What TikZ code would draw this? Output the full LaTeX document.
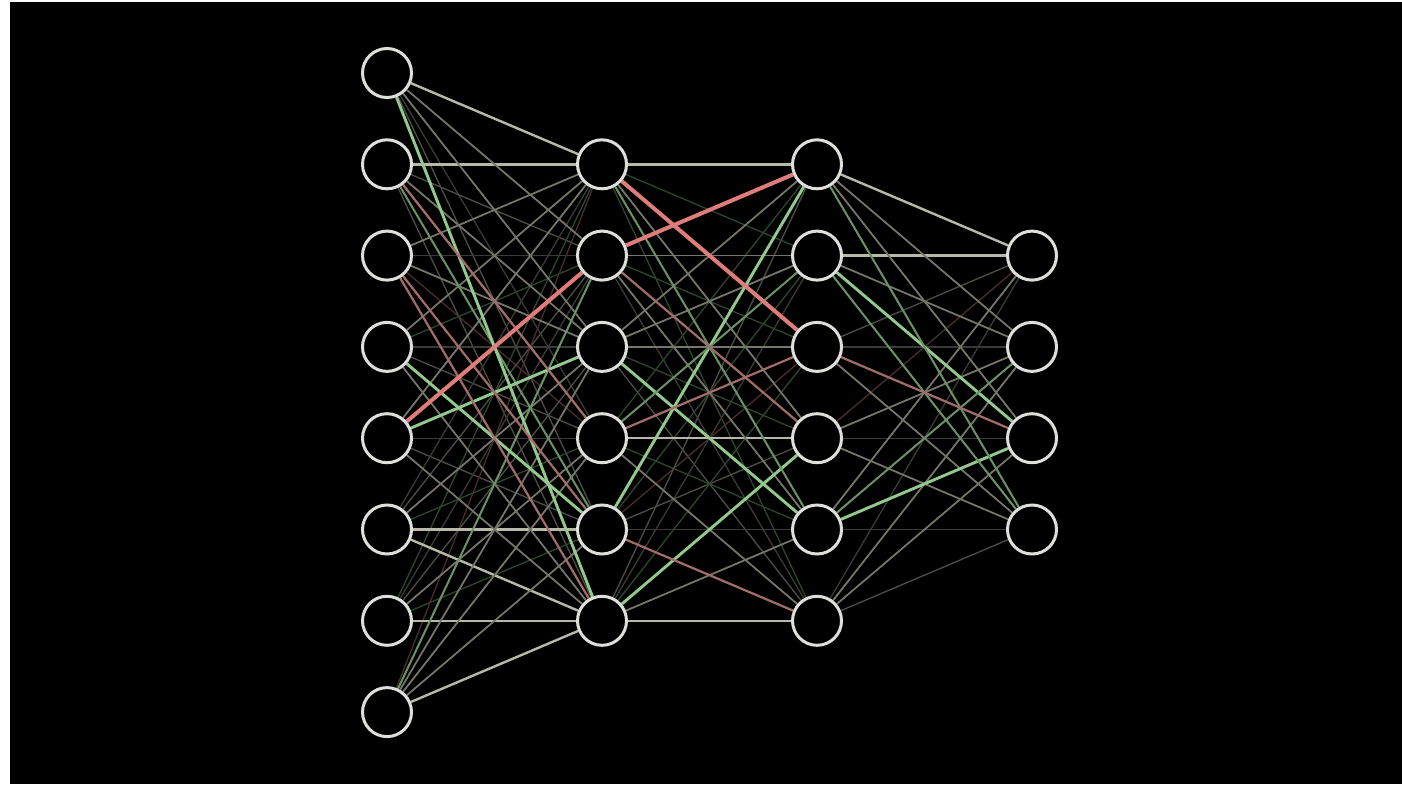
\documentclass[tikz,border=0pt]{standalone}
\pgfdeclarelayer{bg}
\pgfsetlayers{bg,main}
\definecolor{ncol}{HTML}{DEDEDA}
\definecolor{gwc}{HTML}{B8B8A8}
\definecolor{gwd}{HTML}{76766B}
\definecolor{grc}{HTML}{93C98E}
\definecolor{grd}{HTML}{6A9266}
\definecolor{rdc}{HTML}{E07C7A}
\definecolor{rdd}{HTML}{A26C6A}
\definecolor{fa}{HTML}{3A3A36}
\definecolor{fb}{HTML}{2E462E}
\definecolor{fc}{HTML}{482E2E}
\definecolor{fd}{HTML}{4E4E47}
\begin{document}
\begin{tikzpicture}[x=1pt,y=-1pt,
  neuron/.style={circle,draw=ncol,line width=3pt,minimum size=49pt,inner sep=0pt},
  faint0/.style={draw=fa,line width=1.3pt},
  faint1/.style={draw=fb,line width=1.3pt},
  faint2/.style={draw=fc,line width=1.3pt},
  faint3/.style={draw=fd,line width=1.3pt},
  gw/.style={draw=gwc,line width=2.4pt},
  gwdim/.style={draw=gwd,line width=1.7pt},
  gr/.style={draw=grc,line width=2.9pt},
  grdim/.style={draw=grd,line width=2pt},
  rd/.style={draw=rdc,line width=4pt},
  rddim/.style={draw=rdd,line width=2.2pt}]
\useasboundingbox (0,0) rectangle (1402,784);
% nodes
\foreach \r in {0,...,7} \node[neuron] (a\r) at (387,{73+91.3*\r}) {};
\foreach \r in {1,...,6} \node[neuron] (b\r) at (602,{73+91.3*\r}) {};
\foreach \r in {1,...,6} \node[neuron] (c\r) at (817,{73+91.3*\r}) {};
\foreach \r in {2,...,5} \node[neuron] (d\r) at (1032,{73+91.3*\r}) {};
\begin{pgfonlayer}{bg}
\fill[white] (0,0) rectangle (1402,784);
\fill[black] (10,2) rectangle (1402,784);
% faint full mesh
\foreach \i in {0,...,7} \foreach \j in {1,...,6} {
  \pgfmathtruncatemacro\k{mod(\i*5+\j*3,4)}
  \draw[faint\k] (a\i) -- (b\j);}
\foreach \i in {1,...,6} \foreach \j in {1,...,6} {
  \pgfmathtruncatemacro\k{mod(\i*3+\j*5,4)}
  \draw[faint\k] (b\i) -- (c\j);}
\foreach \i in {1,...,6} \foreach \j in {2,...,5} {
  \pgfmathtruncatemacro\k{mod(\i*7+\j,4)}
  \draw[faint\k] (c\i) -- (d\j);}
% layer 1 -> 2
\foreach \u/\v in {a0/b1,a1/b1,a5/b6,a6/b6,a7/b6,a5/b5} \draw[gw] (\u) -- (\v);
\foreach \u/\v in {a7/b3,a7/b4,a7/b5,a1/b3,a1/b4,a2/b1,a3/b1,a0/b2,a0/b3,a6/b4,a4/b1,a5/b3,a2/b3,a3/b6,a4/b6}
  \draw[gwdim] (\u) -- (\v);
\foreach \u/\v in {a1/b5,a7/b2} \draw[grdim] (\u) -- (\v);
\foreach \u/\v in {a0/b6,a3/b5,a4/b3} \draw[gr] (\u) -- (\v);
\foreach \u/\v in {a2/b5,a2/b6,a1/b4} \draw[rddim] (\u) -- (\v);
\draw[rd] (a4) -- (b2);
% layer 2 -> 3
\foreach \u/\v in {b1/c1,b4/c4,b6/c6} \draw[gw] (\u) -- (\v);
\foreach \u/\v in {b3/c1,b4/c6,b2/c2,b1/c4,b3/c2,b2/c5,b6/c5,b3/c3} \draw[gwdim] (\u) -- (\v);
\foreach \u/\v in {b5/c1,b3/c5,b6/c4} \draw[gr] (\u) -- (\v);
\foreach \u/\v in {b1/c5,b4/c2} \draw[grdim] (\u) -- (\v);
\foreach \u/\v in {b4/c3,b5/c6,b2/c4} \draw[rddim] (\u) -- (\v);
\foreach \u/\v in {b1/c3,b2/c1} \draw[rd] (\u) -- (\v);
% layer 3 -> 4
\foreach \u/\v in {c1/d2,c2/d2} \draw[gw] (\u) -- (\v);
\foreach \u/\v in {c1/d3,c1/d4,c2/d3,c3/d5,c4/d5,c6/d4,c5/d2,c4/d3,c6/d3} \draw[gwdim] (\u) -- (\v);
\foreach \u/\v in {c2/d4,c5/d4} \draw[gr] (\u) -- (\v);
\foreach \u/\v in {c5/d3,c1/d5,c2/d5} \draw[grdim] (\u) -- (\v);
\foreach \u/\v in {c3/d4} \draw[rddim] (\u) -- (\v);
\end{pgfonlayer}
\end{tikzpicture}
\end{document}
